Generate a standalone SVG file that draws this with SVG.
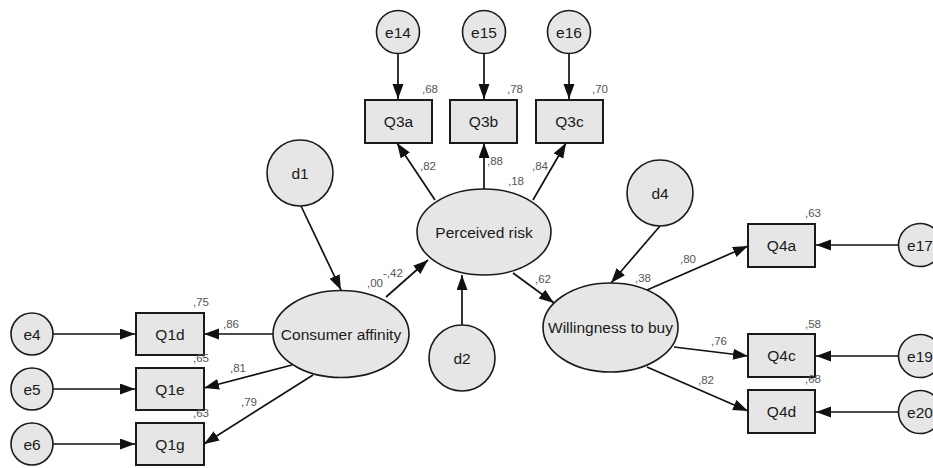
<svg xmlns="http://www.w3.org/2000/svg" width="933" height="468" viewBox="0 0 933 468">
<style>
.n{fill:#e6e6e6;stroke:#1a1a1a;stroke-width:1.6}
.b{fill:#e6e6e6;stroke:#1a1a1a;stroke-width:2}
.t{font-family:"Liberation Sans",Arial,sans-serif;font-size:15.5px;fill:#1a1a1a;text-anchor:middle}
.s{font-family:"Liberation Sans",Arial,sans-serif;font-size:11.5px;fill:#555}
.c line{stroke:#111;stroke-width:1.7;marker-end:url(#ah)}
</style>
<defs>
<marker id="ah" markerUnits="userSpaceOnUse" markerWidth="16" markerHeight="12" refX="15" refY="5.5" orient="auto">
<path d="M0,0 L15,5.5 L0,11 z" fill="#111"/>
</marker>
</defs>
<rect width="933" height="468" fill="#fff"/>
<g class="c" id="connectors">
<line x1="53" y1="334" x2="135" y2="334"/>
<line x1="53" y1="389" x2="135" y2="389"/>
<line x1="53" y1="444" x2="135" y2="444"/>
<line x1="273" y1="334" x2="204" y2="334"/>
<line x1="292" y1="365" x2="204" y2="388"/>
<line x1="313" y1="375" x2="204" y2="444"/>
<line x1="301" y1="206" x2="341" y2="290"/>
<line x1="386" y1="297" x2="428" y2="260"/>
<line x1="435" y1="200" x2="397" y2="143"/>
<line x1="484" y1="189" x2="484" y2="143"/>
<line x1="533" y1="200" x2="566" y2="143"/>
<line x1="398" y1="54" x2="398" y2="99"/>
<line x1="484" y1="54" x2="484" y2="99"/>
<line x1="569" y1="54" x2="569" y2="99"/>
<line x1="462" y1="325" x2="462" y2="275"/>
<line x1="513" y1="273" x2="554" y2="303"/>
<line x1="660" y1="226" x2="611" y2="283"/>
<line x1="647" y1="290" x2="748" y2="246"/>
<line x1="674" y1="347" x2="748" y2="356"/>
<line x1="647" y1="367" x2="748" y2="411"/>
<line x1="899" y1="245" x2="816" y2="245"/>
<line x1="899" y1="356" x2="816" y2="356"/>
<line x1="899" y1="412" x2="816" y2="412"/>
</g>
<g id="e4"><circle class="n" cx="32" cy="334" r="21"/><text class="t" x="32" y="339.5">e4</text></g>
<g id="e5"><circle class="n" cx="32" cy="389" r="21"/><text class="t" x="32" y="394.5">e5</text></g>
<g id="e6"><circle class="n" cx="32" cy="444" r="21"/><text class="t" x="32" y="449.5">e6</text></g>
<g id="Q1d"><rect class="b" x="136" y="313" width="68" height="42"/><text class="t" x="170" y="339.5">Q1d</text></g>
<g id="Q1e"><rect class="b" x="136" y="368" width="68" height="42"/><text class="t" x="170" y="394.5">Q1e</text></g>
<g id="Q1g"><rect class="b" x="136" y="423" width="68" height="42"/><text class="t" x="170" y="449.5">Q1g</text></g>
<g id="consumer_affinity"><ellipse class="n" cx="341" cy="334" rx="68" ry="43.5"/><text class="t" x="341" y="339.5">Consumer affinity</text></g>
<g id="d1"><circle class="n" cx="300" cy="173" r="33"/><text class="t" x="300" y="178.5">d1</text></g>
<g id="perceived_risk"><ellipse class="n" cx="484" cy="232" rx="67" ry="43"/><text class="t" x="484" y="237.5">Perceived risk</text></g>
<g id="d2"><circle class="n" cx="462" cy="358" r="33"/><text class="t" x="462" y="363.5">d2</text></g>
<g id="Q3a"><rect class="b" x="365" y="100" width="67" height="43"/><text class="t" x="398.5" y="127">Q3a</text></g>
<g id="Q3b"><rect class="b" x="450" y="100" width="67" height="43"/><text class="t" x="483.5" y="127">Q3b</text></g>
<g id="Q3c"><rect class="b" x="536" y="100" width="67" height="43"/><text class="t" x="569.5" y="127">Q3c</text></g>
<g id="e14"><circle class="n" cx="398" cy="32" r="21.5"/><text class="t" x="398" y="37.5">e14</text></g>
<g id="e15"><circle class="n" cx="484" cy="32" r="21.5"/><text class="t" x="484" y="37.5">e15</text></g>
<g id="e16"><circle class="n" cx="569" cy="32" r="21.5"/><text class="t" x="569" y="37.5">e16</text></g>
<g id="d4"><circle class="n" cx="660" cy="193" r="33"/><text class="t" x="660" y="198.5">d4</text></g>
<g id="willingness"><ellipse class="n" cx="610.5" cy="327.5" rx="67.5" ry="44.5"/><text class="t" x="610.5" y="333">Willingness to buy</text></g>
<g id="Q4a"><rect class="b" x="748" y="224" width="67" height="43"/><text class="t" x="781.5" y="251">Q4a</text></g>
<g id="Q4c"><rect class="b" x="748" y="334" width="67" height="43"/><text class="t" x="781.5" y="361">Q4c</text></g>
<g id="Q4d"><rect class="b" x="748" y="390" width="67" height="43"/><text class="t" x="781.5" y="417">Q4d</text></g>
<g id="e17"><circle class="n" cx="920" cy="245" r="21.5"/><text class="t" x="920" y="250.5">e17</text></g>
<g id="e19"><circle class="n" cx="920" cy="356" r="21.5"/><text class="t" x="920" y="361.5">e19</text></g>
<g id="e20"><circle class="n" cx="920" cy="412" r="21.5"/><text class="t" x="920" y="417.5">e20</text></g>
<g id="labels">
<text class="s" x="193" y="306">,75</text>
<text class="s" x="223" y="328">,86</text>
<text class="s" x="193" y="362">,65</text>
<text class="s" x="230" y="372">,81</text>
<text class="s" x="193" y="417">,63</text>
<text class="s" x="241" y="406">,79</text>
<text class="s" x="422" y="93">,68</text>
<text class="s" x="507" y="93">,78</text>
<text class="s" x="592" y="93">,70</text>
<text class="s" x="420" y="170">,82</text>
<text class="s" x="487" y="165">,88</text>
<text class="s" x="532" y="170">,84</text>
<text class="s" x="508" y="185">,18</text>
<text class="s" x="367" y="287">,00</text>
<text class="s" x="383" y="277">-,42</text>
<text class="s" x="535" y="283">,62</text>
<text class="s" x="635" y="282">,38</text>
<text class="s" x="680" y="263">,80</text>
<text class="s" x="805" y="217">,63</text>
<text class="s" x="711" y="345">,76</text>
<text class="s" x="805" y="328">,58</text>
<text class="s" x="698" y="384">,82</text>
<text class="s" x="805" y="383">,68</text>
</g>
</svg>
